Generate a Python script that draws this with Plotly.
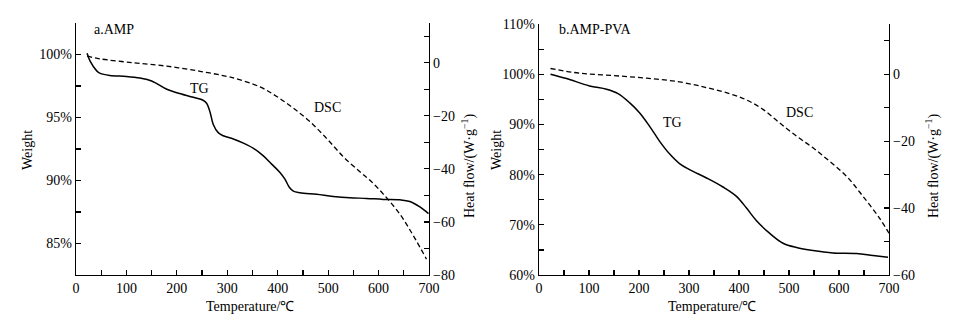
import plotly.graph_objects as go

# ---------------- data ----------------
# Panel a: AMP
a_tg_T = [22, 28, 41, 48, 67, 100, 127, 150, 180, 200, 233, 252, 259, 266, 272, 282, 292, 312, 332, 352,
          371, 388, 404, 414, 423, 431, 444, 477, 510, 543, 576, 609, 642, 662, 682, 699]
a_tg_W = [100.1, 99.47, 98.7, 98.5, 98.34, 98.26, 98.13, 97.9, 97.24, 96.97, 96.6, 96.37, 96.13, 95.4, 94.47,
          93.8, 93.55, 93.3, 92.97, 92.55, 91.97, 91.3, 90.66, 90.13, 89.47, 89.16, 89.03, 88.9, 88.74, 88.63,
          88.58, 88.5, 88.47, 88.34, 87.9, 87.37]
a_dsc_T = [22, 47, 114, 180, 246, 299, 312, 365, 398, 431, 464, 497, 530, 563, 583, 609, 642, 669, 695]
a_dsc_H = [2.5, 1.5, 0.0, -1.27, -3.2, -5.1, -5.7, -9.1, -12.7, -17.1, -22.2, -28.5, -35.4, -41.1, -44.3,
           -49.4, -57.0, -65.2, -74.0]

# Panel b: AMP-PVA
b_tg_T = [23, 55, 101, 135, 158, 181, 201, 221, 241, 261, 281, 301, 335, 368, 395, 415, 435, 461, 488, 515,
          548, 588, 635, 668, 698]
b_tg_W = [100.0, 99.13, 97.67, 97.0, 96.13, 94.33, 92.33, 89.67, 86.67, 84.13, 82.2, 81.0, 79.33, 77.53,
          75.67, 73.33, 70.8, 68.33, 66.33, 65.47, 64.87, 64.4, 64.27, 63.87, 63.53]
b_dsc_T = [23, 81, 148, 215, 281, 335, 381, 415, 448, 481, 515, 548, 581, 615, 648, 681, 700]
b_dsc_H = [1.7, 0.3, -0.4, -1.2, -2.3, -4.0, -5.8, -7.7, -10.5, -14.5, -18.5, -22.0, -26.0, -30.5, -36.5,
           -43.0, -47.5]

# ticks (labelled) and minor ticks
x_tickvals = [0, 100, 200, 300, 400, 500, 600, 700]
x_ticktext = ["0", "100", "200", "300", "400", "500", "600", "700"]
x_minor = [50, 150, 250, 350, 450, 550, 650]
a_left_vals = [85, 90, 95, 100]
a_left_text = ["85%", "90%", "95%", "100%"]
a_left_minor = [82.5, 87.5, 92.5, 97.5, 102.5]
a_right_vals = [-80, -60, -40, -20, 0]
a_right_text = ["−80", "−60", "−40", "−20", "0"]
a_right_minor = [-70, -50, -30, -10, 10, 15]
b_left_vals = [60, 70, 80, 90, 100, 110]
b_left_text = ["60%", "70%", "80%", "90%", "100%", "110%"]
b_left_minor = [65, 75, 85, 95, 105]
b_right_vals = [-60, -40, -20, 0]
b_right_text = ["−60", "−40", "−20", "0"]
b_right_minor = [-50, -30, -10, 10, 15]

FONT = "Liberation Serif"
W, H = 960, 324


def px(x):
    return x / W


def py(y):
    return 1 - y / H


fig = go.Figure()
solid = dict(color="black", width=1.5)
dashed = dict(color="black", width=1.3, dash="5px,3px")

fig.add_trace(go.Scatter(x=a_tg_T, y=a_tg_W, mode="lines", line=solid, line_shape="spline",
                         xaxis="x", yaxis="y", showlegend=False, hoverinfo="skip"))
fig.add_trace(go.Scatter(x=a_dsc_T, y=a_dsc_H, mode="lines", line=dashed, line_shape="spline",
                         xaxis="x", yaxis="y2", showlegend=False, hoverinfo="skip"))
fig.add_trace(go.Scatter(x=b_tg_T, y=b_tg_W, mode="lines", line=solid, line_shape="spline",
                         xaxis="x2", yaxis="y3", showlegend=False, hoverinfo="skip"))
fig.add_trace(go.Scatter(x=b_dsc_T, y=b_dsc_H, mode="lines", line=dashed, line_shape="spline",
                         xaxis="x2", yaxis="y4", showlegend=False, hoverinfo="skip"))

axis_common = dict(showline=True, linecolor="black", linewidth=1.3, ticks="inside", ticklen=5,
                   tickwidth=1.2, tickcolor="black", showgrid=False, zeroline=False, automargin=False,
                   tickfont=dict(family=FONT, size=14, color="black"), tickmode="array")


def minor(vals):
    return dict(tickmode="array", tickvals=vals, ticks="inside", ticklen=5, tickwidth=1.2,
                tickcolor="black", showgrid=False)


a_y0, a_y1 = py(275), py(23)
b_y0, b_y1 = py(275), py(24)

fig.update_layout(
    width=W, height=H,
    margin=dict(l=0, r=0, t=0, b=0, pad=0, autoexpand=False),
    paper_bgcolor="white", plot_bgcolor="white",
    font=dict(family=FONT, size=14, color="black"),
    xaxis=dict(domain=[px(76), px(429)], range=[0, 700], anchor="y",
               tickvals=x_tickvals, ticktext=x_ticktext, minor=minor(x_minor), **axis_common),
    yaxis=dict(domain=[a_y0, a_y1], range=[82.5, 102.5], anchor="x",
               tickvals=a_left_vals, ticktext=a_left_text, minor=minor(a_left_minor), **axis_common),
    yaxis2=dict(domain=[a_y0, a_y1], range=[-80, 15], anchor="x", overlaying="y", side="right",
                tickvals=a_right_vals, ticktext=a_right_text, minor=minor(a_right_minor), **axis_common),
    xaxis2=dict(domain=[px(539), px(889)], range=[0, 700], anchor="y3",
                tickvals=x_tickvals, ticktext=x_ticktext, minor=minor(x_minor), **axis_common),
    yaxis3=dict(domain=[b_y0, b_y1], range=[60, 110], anchor="x2",
                tickvals=b_left_vals, ticktext=b_left_text, minor=minor(b_left_minor), **axis_common),
    yaxis4=dict(domain=[b_y0, b_y1], range=[-60, 15], anchor="x2", overlaying="y3", side="right",
                tickvals=b_right_vals, ticktext=b_right_text, minor=minor(b_right_minor), **axis_common),
)


def ann(text, x, y, xanchor="center", angle=0):
    fig.add_annotation(text=text, x=px(x), y=py(y), xref="paper", yref="paper",
                       xanchor=xanchor, yanchor="middle", showarrow=False, textangle=angle,
                       font=dict(family=FONT, size=14, color="black"))


# panel labels and curve labels
ann("a.AMP", 92, 30, xanchor="left")
ann("TG", 199, 88)
ann("DSC", 327, 107)
ann("b.AMP-PVA", 557, 30, xanchor="left")
ann("TG", 672, 122)
ann("DSC", 799, 112)

# axis titles
ann("Temperature/℃", 250, 306)
ann("Temperature/℃", 712, 306)
ann("Weight", 27, 150, angle=-90)
ann("Weight", 496, 150, angle=-90)
ann("Heat flow/(W·g<sup>−1</sup>)", 468, 166, angle=-90)
ann("Heat flow/(W·g<sup>−1</sup>)", 932, 166, angle=-90)

fig.write_html("out.html", config={"displayModeBar": False, "staticPlot": True},
               post_script="document.body.style.margin='0';document.body.style.overflow='hidden';")
